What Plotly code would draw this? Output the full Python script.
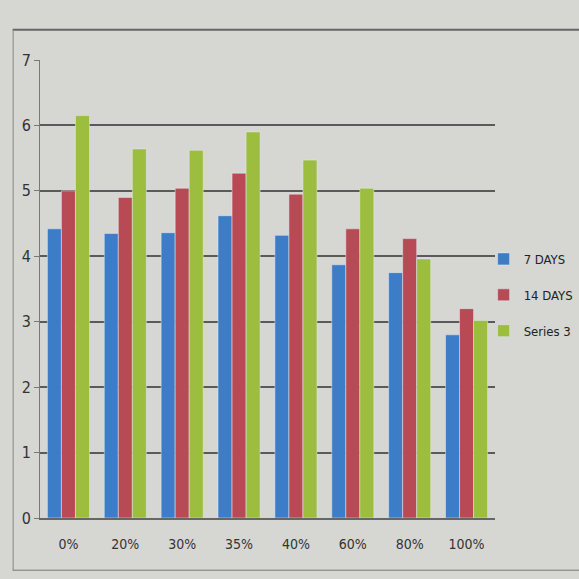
import plotly.graph_objects as go

categories = ["0%", "20%", "30%", "35%", "40%", "60%", "80%", "100%"]
days7 = [4.42, 4.35, 4.36, 4.62, 4.32, 3.87, 3.75, 2.8]
days14 = [5.0, 4.9, 5.04, 5.27, 4.95, 4.42, 4.27, 3.2]
series3 = [6.15, 5.64, 5.62, 5.9, 5.47, 5.04, 3.96, 3.02]
y_ticks = [0, 1, 2, 3, 4, 5, 6, 7]

fig = go.Figure()
fig.add_bar(x=categories, y=days7, name="7 DAYS", marker_color="#3d7cc6", legendgroup="a")
fig.add_bar(x=categories, y=days14, name="14 DAYS", marker_color="#b84a55", legendgroup="b")
fig.add_bar(x=categories, y=series3, name="Series 3", marker_color="#9cbd3e", legendgroup="c")

fam = "DejaVu Sans Condensed, Liberation Sans Narrow, Open Sans, sans-serif"

fig.update_layout(
    width=579, height=579,
    margin=dict(l=40, r=84, t=60, b=61, autoexpand=False),
    paper_bgcolor="#d6d6d3",
    plot_bgcolor="#d6d6d3",
    barmode="group",
    bargap=0.26,
    bargroupgap=0,
    font=dict(family=fam, size=14, color="#333"),
    legend=dict(x=0.975, y=0.487, xanchor="left", yanchor="middle",
                bgcolor="rgba(0,0,0,0)", font=dict(size=13, color="#222"),
                itemwidth=30, tracegroupgap=16),
    xaxis=dict(showgrid=False, showline=True, linecolor="#666", linewidth=2,
               ticks="", tickfont=dict(size=14), ticklabelstandoff=12),
    yaxis=dict(range=[0, 7], tickvals=y_ticks, showgrid=True,
               gridcolor="#5a5a5a", gridwidth=2, showline=True,
               linecolor="#777", linewidth=1, ticks="outside", ticklen=5,
               tickcolor="#777", zeroline=False, tickfont=dict(size=16)),
    shapes=[
        dict(type="line", xref="paper", yref="paper", x0=-0.06, x1=1.2,
             y0=1.066, y1=1.066, line=dict(color="#666", width=2)),
        dict(type="line", xref="paper", yref="paper", x0=-0.059, x1=-0.059,
             y0=1.066, y1=-0.114, line=dict(color="#888", width=1)),
        dict(type="line", xref="paper", yref="paper", x0=-0.06, x1=1.2,
             y0=-0.114, y1=-0.114, line=dict(color="#777", width=1)),
    ],
)

fig.write_html("out.html")
